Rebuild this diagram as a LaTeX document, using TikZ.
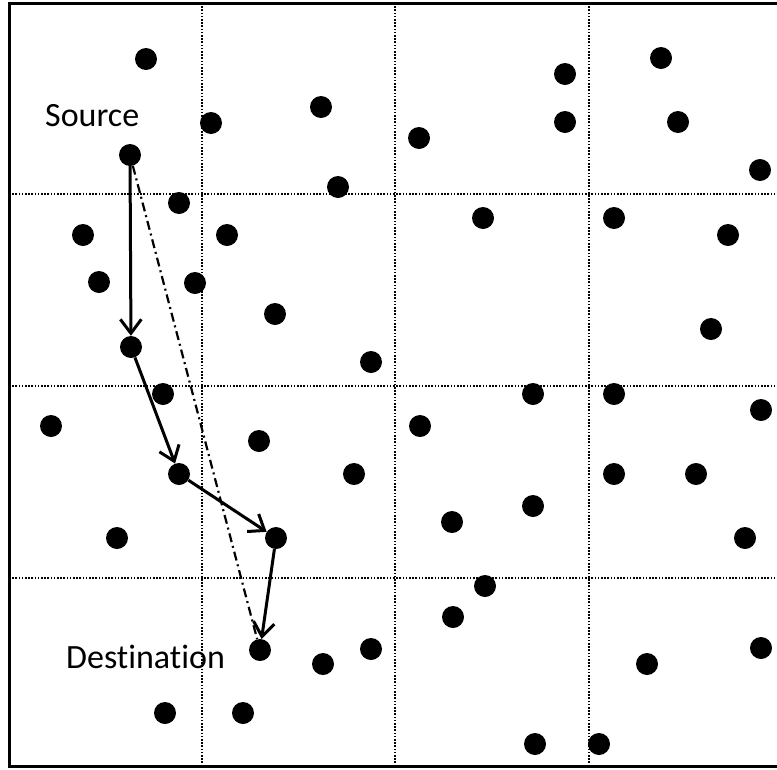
\documentclass[tikz,border=0pt]{standalone}
\usepackage{fontspec}
\setmainfont{Carlito}[Ligatures={NoCommon,NoRare}]
\usetikzlibrary{arrows.meta}
\begin{document}
\begin{tikzpicture}[x=1pt,y=-1pt,
  dot/.style={circle,fill=black,draw=none,minimum size=22pt,inner sep=0pt},
  gridline/.style={line width=2.4pt,dash pattern=on 1.6pt off 1.6pt},
  frameline/.style={line width=3pt},
  hop/.style={line width=3pt,-{Straight Barb[length=14pt,width=21pt,line width=3pt]}},
  direct/.style={line width=2.2pt,dash pattern=on 9pt off 4pt on 2pt off 4pt},
  lbl/.style={font=\fontsize{34}{40}\selectfont,inner sep=0pt,anchor=base west}]
\useasboundingbox (0,0) rectangle (777,769);
% grid
\draw[gridline] (202,3) -- (202,766);
\draw[gridline] (395,3) -- (395,766);
\draw[gridline] (589,3) -- (589,766);
\draw[gridline] (9,194) -- (777,194);
\draw[gridline] (9,386) -- (777,386);
\draw[gridline] (9,578) -- (777,578);
% frame (open on right)
\draw[frameline] (777,3) -- (9,3) -- (9,766) -- (777,766);
% dots
\node[dot] (d1) at (146,59) {};
\node[dot] (d2) at (211,123) {};
\node[dot] (d3) at (321,107) {};
\node[dot] (d4) at (419,138) {};
\node[dot] (d5) at (565,74) {};
\node[dot] (d6) at (565,122) {};
\node[dot] (d7) at (661,58) {};
\node[dot] (d8) at (678,122) {};
\node[dot] (d9) at (760,170) {};
\node[dot] (src) at (130,155) {};
\node[dot] (d11) at (338,187) {};
\node[dot] (d12) at (179,203) {};
\node[dot] (d13) at (83,235) {};
\node[dot] (d14) at (227,235) {};
\node[dot] (d15) at (99,282) {};
\node[dot] (d16) at (195,283) {};
\node[dot] (d17) at (483,218) {};
\node[dot] (d18) at (614,218) {};
\node[dot] (d19) at (728,235) {};
\node[dot] (d20) at (275,314) {};
\node[dot] (d21) at (711,329) {};
\node[dot] (d22) at (371,362) {};
\node[dot] (p1) at (131,347) {};
\node[dot] (d24) at (163,394) {};
\node[dot] (d25) at (51,426) {};
\node[dot] (d26) at (259,441) {};
\node[dot] (d27) at (420,426) {};
\node[dot] (d28) at (533,394) {};
\node[dot] (d29) at (614,394) {};
\node[dot] (d30) at (761,410) {};
\node[dot] (p2) at (179,474) {};
\node[dot] (d32) at (354,474) {};
\node[dot] (d33) at (614,474) {};
\node[dot] (d34) at (696,474) {};
\node[dot] (d35) at (533,506) {};
\node[dot] (d36) at (452,522) {};
\node[dot] (d37) at (117,538) {};
\node[dot] (p3) at (276,538) {};
\node[dot] (d39) at (745,538) {};
\node[dot] (d40) at (485,586) {};
\node[dot] (d41) at (453,617) {};
\node[dot] (dst) at (260,650) {};
\node[dot] (d43) at (323,664) {};
\node[dot] (d44) at (371,649) {};
\node[dot] (d45) at (647,664) {};
\node[dot] (d46) at (761,648) {};
\node[dot] (d47) at (165,713) {};
\node[dot] (d48) at (243,713) {};
\node[dot] (d49) at (535,744) {};
\node[dot] (d50) at (599,744) {};
% labels
\node[lbl] (lsrc) at (45,126) {Source};
\node[lbl] (ldst) at (66,668) {Destination};
% connectors
\draw[direct] (src) -- (dst);
\draw[hop] (src) -- (p1);
\draw[hop] (p1) -- (p2);
\draw[hop] (p2) -- (p3);
\draw[hop] (p3) -- (dst);
\end{tikzpicture}
\end{document}
